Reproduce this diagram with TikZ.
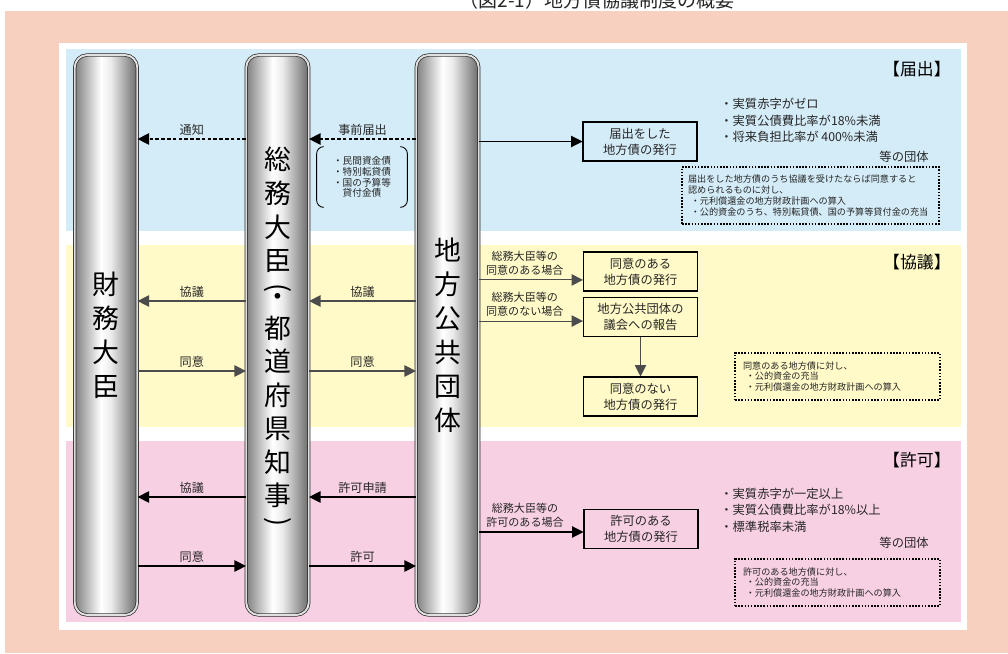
\documentclass[tikz,border=0pt]{standalone}
\usepackage{fontspec}
\setmainfont{Noto Sans CJK JP}
\usepackage{tikz}
\usetikzlibrary{arrows.meta}

\definecolor{bgsalmon}{RGB}{248,208,192}
\definecolor{bandblue}{RGB}{212,236,248}
\definecolor{bandyellow}{RGB}{255,250,200}
\definecolor{bandpink}{RGB}{248,208,228}
\pgfdeclarehorizontalshading{pillarshade}{100bp}{color(0bp)=(black!50); color(25bp)=(black!50); color(46bp)=(white); color(54bp)=(white!92!black); color(75bp)=(black!58); color(100bp)=(black!58)}
\newcommand{\fsz}[2]{\fontsize{#1}{#2}\selectfont}

\begin{document}
\begin{tikzpicture}[x=0.02cm, y=0.02cm]
\tikzset{
  every node/.style={text=black!85},
  pillar/.style={draw=black!85, line width=0.4pt, double=black!12, double distance=1.1pt, rounded corners=7pt, shade, shading=pillarshade, minimum width=1.25cm, minimum height=11.2cm, inner sep=0pt, align=center, text=black, font=\fsz{15.3}{19.3}},
  pillarchar/.style={inner sep=0pt, align=center, text=black, font=\fsz{15.3}{19.1}},
  tag/.style={anchor=east, inner sep=0pt, text=black, font=\fsz{9.6}{11}},
  flow/.style={line width=0.6pt, -{Triangle[length=6.5pt,width=6.5pt]}},
  notice/.style={flow, dash pattern=on 2pt off 1.3pt},
  lbl/.style={inner sep=1.5pt, font=\fsz{6.9}{8}},
  caselbl/.style={inner sep=2.2pt, align=center, font=\fsz{6.3}{7.9}},
  bondbox/.style={draw=black, line width=0.6pt, minimum width=2.28cm, minimum height=0.78cm, inner sep=0pt, align=center, font=\fsz{7}{9}},
  cond/.style={anchor=west, inner sep=0pt, align=left, font=\fsz{7}{9.4}},
  dantai/.style={anchor=east, inner sep=0pt, font=\fsz{7}{9}},
  note/.style={draw=black, line width=0.7pt, dash pattern=on 0.9pt off 0.9pt, align=left, inner ysep=0pt, font=\fsz{5.2}{6.1}}
}
\useasboundingbox (0,0) rectangle (1008,-653);
\clip (0,0) rectangle (1008,-653);
\node[anchor=base, font=\fsz{10.8}{12}] (title) at (597,-7) {（図2-1）地方債協議制度の概要};
\fill[bgsalmon] (5,-11) rectangle (1008,-653);
\fill[white] (59,-43) rectangle (967,-630);
\fill[bandblue] (66,-49) rectangle (961,-231);
\fill[bandyellow] (66,-245) rectangle (961,-427);
\fill[bandpink] (66,-441) rectangle (961,-622);

\node[pillar] (zaimu) at (106,-335) {財\\務\\大\\臣};
\node[pillar] (somu) at (277.5,-335) {};
\node[pillar] (chiho) at (447.5,-335) {地\\方\\公\\共\\団\\体};
\node[pillarchar] (somuA) at (277.5,-210) {総\\務\\大\\臣};
\node[pillarchar, rotate=-90] (kakkoA) at (277.5,-288) {(};
\node[pillarchar] (nakaguro) at (277.5,-300) {・};
\node[pillarchar] (somuB) at (277.5,-412) {都\\道\\府\\県\\知\\事};
\node[pillarchar, rotate=-90] (kakkoB) at (277.5,-522) {)};

\coordinate (rowA) at (0,-139);
\coordinate (rowB) at (0,-301);
\coordinate (rowC) at (0,-371);
\coordinate (rowD) at (0,-497);
\coordinate (rowE) at (0,-566);

\draw[notice] (somu.west |- rowA) -- (zaimu.east |- rowA) node[midway, above, lbl] {通知};
\draw[notice] (chiho.west |- rowA) -- (somu.east |- rowA) node[midway, above, lbl] {事前届出};
\node[inner sep=0pt, minimum width=1.8cm, minimum height=1.2cm, align=left, font=\fsz{5.5}{6.2}] (kouteki) at (362,-177) {・民間資金債\\・特別転貸債\\・国の予算等\\\hspace*{1em}貸付金債};
\draw[line width=0.5pt, rounded corners=4pt] ([xshift=4pt]kouteki.north west) -- (kouteki.north west) -- (kouteki.south west) -- ([xshift=4pt]kouteki.south west);
\draw[line width=0.5pt, rounded corners=4pt] ([xshift=-4pt]kouteki.north east) -- (kouteki.north east) -- (kouteki.south east) -- ([xshift=-4pt]kouteki.south east);

\node[bondbox] (todokeHakko) at (640,-141.5) {届出をした\\地方債の発行};
\draw[flow] (chiho.east |- todokeHakko.west) -- (todokeHakko.west);
\node[cond] (jokenA) at (720,-120.5) {・実質赤字がゼロ\\・実質公債費比率が18\%未満\\・将来負担比率が 400\%未満};
\node[dantai] (dantaiA) at (929,-157) {等の団体};
\node[note, text width=4.9cm, inner xsep=0.12cm, minimum height=1.14cm] (noteA) at (810.5,-195.5) {届出をした地方債のうち協議を受けたならば同意すると\\認められるものに対し、\\\hspace*{0.3em}・元利償還金の地方財政計画への算入\\\hspace*{0.3em}・公的資金のうち、特別転貸債、国の予算等貸付金の充当};
\node[tag] (tagA) at (951,-69) {【届出】};

\draw[flow, draw=black!70] (somu.west |- rowB) -- (zaimu.east |- rowB) node[midway, above, lbl] {協議};
\draw[flow, draw=black!70] (chiho.west |- rowB) -- (somu.east |- rowB) node[midway, above, lbl] {協議};
\draw[flow, draw=black!70] (zaimu.east |- rowC) -- (somu.west |- rowC) node[midway, above, lbl] {同意};
\draw[flow, draw=black!70] (somu.east |- rowC) -- (chiho.west |- rowC) node[midway, above, lbl] {同意};
\node[bondbox] (douiAri) at (640.5,-271.5) {同意のある\\地方債の発行};
\node[bondbox] (hokoku) at (640.5,-317) {地方公共団体の\\議会への報告};
\node[bondbox] (douiNashi) at (640.5,-396.5) {同意のない\\地方債の発行};
\coordinate (inAri) at ([yshift=-4.8pt]douiAri.west);
\coordinate (inNashi) at ([yshift=-2.3pt]hokoku.west);
\draw[flow, draw=black!70] (chiho.east |- inAri) -- (inAri) node[pos=0.44, above, caselbl] {総務大臣等の\\同意のある場合};
\draw[flow, draw=black!70] (chiho.east |- inNashi) -- (inNashi) node[pos=0.44, above, caselbl] {総務大臣等の\\同意のない場合};
\draw[flow, draw=black!70] (hokoku) -- (douiNashi);
\node[note, text width=3.78cm, inner xsep=0.16cm, minimum height=0.94cm] (noteB) at (837.5,-376.5) {同意のある地方債に対し、\\\hspace*{0.3em}・公的資金の充当\\\hspace*{0.3em}・元利償還金の地方財政計画への算入};
\node[tag] (tagB) at (951,-262) {【協議】};

\draw[flow] (somu.west |- rowD) -- (zaimu.east |- rowD) node[midway, above, lbl] {協議};
\draw[flow] (chiho.west |- rowD) -- (somu.east |- rowD) node[midway, above, lbl] {許可申請};
\draw[flow] (zaimu.east |- rowE) -- (somu.west |- rowE) node[midway, above, lbl] {同意};
\draw[flow] (somu.east |- rowE) -- (chiho.west |- rowE) node[midway, above, lbl] {許可};
\node[bondbox] (kyokaAri) at (641,-529) {許可のある\\地方債の発行};
\coordinate (inKyoka) at ([yshift=-1.7pt]kyokaAri.west);
\draw[flow] (chiho.east |- inKyoka) -- (inKyoka) node[pos=0.44, above, caselbl] {総務大臣等の\\許可のある場合};
\node[cond] (jokenB) at (720,-510) {・実質赤字が一定以上\\・実質公債費比率が18\%以上\\・標準税率未満};
\node[dantai] (dantaiB) at (929,-543) {等の団体};
\node[note, text width=3.78cm, inner xsep=0.16cm, minimum height=0.94cm] (noteC) at (837.5,-582.5) {許可のある地方債に対し、\\\hspace*{0.3em}・公的資金の充当\\\hspace*{0.3em}・元利償還金の地方財政計画への算入};
\node[tag] (tagC) at (951,-460) {【許可】};
\end{tikzpicture}
\end{document}
